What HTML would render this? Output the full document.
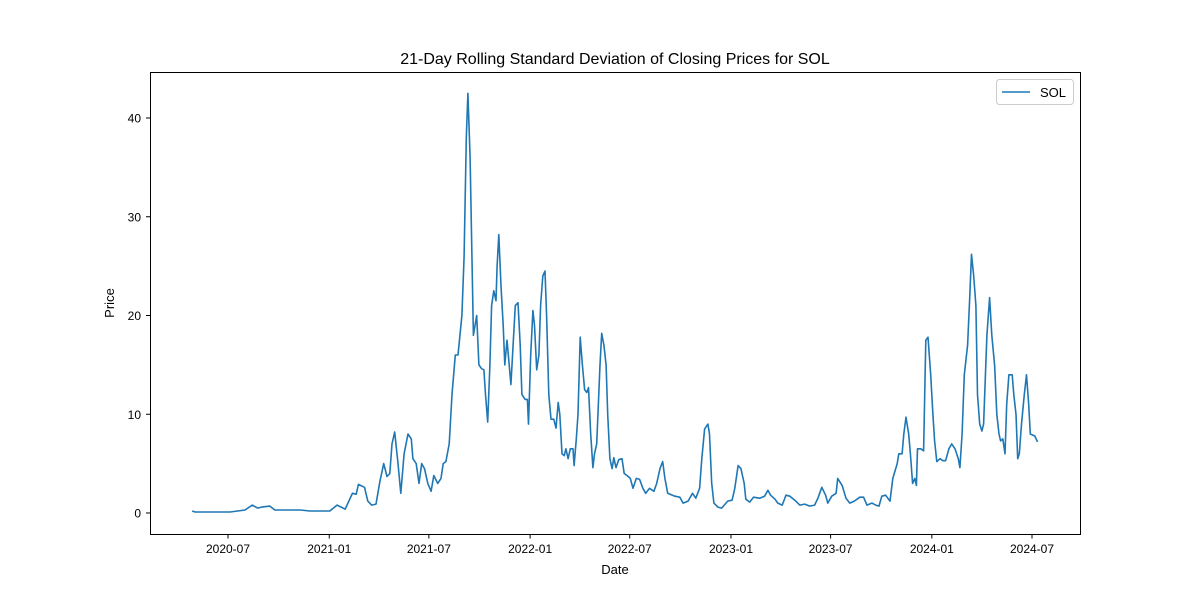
<!DOCTYPE html>
<html><head><meta charset="utf-8"><style>
body{margin:0;background:#fff;}
svg text{font-family:"Liberation Sans","DejaVu Sans",sans-serif;fill:#000;}
</style></head><body>
<svg id="chart" width="1200" height="600" xmlns="http://www.w3.org/2000/svg">
<rect width="1200" height="600" fill="#fff"/>
<text x="615" y="64" font-size="16" text-anchor="middle">21-Day Rolling Standard Deviation of Closing Prices for SOL</text>
<g id="ticks"></g>
<path id="line" fill="none" stroke="#1f77b4" stroke-width="1.6" stroke-linejoin="round"/>
<rect x="150.5" y="72.5" width="930" height="462" fill="none" stroke="#000" stroke-width="1"/>
<text x="615" y="574" font-size="13" text-anchor="middle">Date</text>
<text x="114" y="303" font-size="13" text-anchor="middle" transform="rotate(-90 114 303)">Price</text>
<g>
<rect x="996.5" y="79.5" width="77" height="25" fill="#fff" stroke="#ccc" rx="3"/>
<line x1="1002" y1="92" x2="1030" y2="92" stroke="#1f77b4" stroke-width="1.6"/>
<text x="1040" y="97" font-size="13">SOL</text>
</g>
</svg>
<script>
// days since 2020-07-01
const days=[-65,-60,4,31,44,54,61,76,85,104,131,149,167,185,198,213,226,233,237,248,254,261,269,276,283,289,294,298,303,309,314,320,327,333,336,342,347,352,357,363,369,374,381,387,391,396,402,407,413,418,425,429,433,436,440,444,446,452,456,461,465,468,472,476,479,483,487,489,492,496,500,503,507,511,514,518,522,527,531,534,540,544,546,550,554,557,561,565,568,572,576,579,583,587,592,596,600,603,607,611,614,618,622,627,629,633,636,640,644,648,652,655,659,663,666,670,676,679,683,687,690,694,698,701,705,710,716,720,725,731,736,742,748,754,759,766,774,779,785,790,794,799,812,821,827,836,844,850,857,861,866,872,875,879,883,890,897,908,916,921,927,932,938,941,948,955,966,975,981,986,994,999,1007,1014,1021,1030,1039,1048,1057,1066,1072,1079,1086,1090,1097,1105,1108,1116,1123,1130,1138,1148,1155,1161,1170,1177,1183,1188,1195,1203,1208,1216,1219,1225,1228,1232,1237,1240,1244,1248,1251,1253,1259,1264,1268,1272,1277,1281,1284,1288,1294,1299,1304,1310,1315,1321,1327,1330,1334,1338,1344,1348,1351,1355,1359,1362,1366,1370,1373,1379,1384,1388,1393,1397,1401,1404,1408,1412,1415,1419,1425,1428,1432,1435,1438,1442,1447,1451,1455,1458,1466,1471];
const values=[0.2,0.1,0.1,0.3,0.8,0.5,0.6,0.7,0.3,0.3,0.3,0.2,0.2,0.2,0.8,0.4,2.0,1.9,2.9,2.6,1.2,0.8,0.9,3.2,5.0,3.7,4.0,7.0,8.2,5.0,2.0,6.0,8.0,7.5,5.5,5.0,3.0,5.0,4.5,3.0,2.2,3.8,3.0,3.5,5.0,5.2,7.0,12,16,16,20,26,38,42.5,36,24,18,20,15,14.6,14.5,12,9.2,15,21,22.5,21.5,25,28.2,23,19,15,17.5,15,13,17,21,21.3,17,12,11.5,11.5,9,16,20.5,19,14.5,16,21,24,24.5,20,12,9.5,9.5,8.6,11.2,10,6,5.8,6.5,5.5,6.5,6.5,4.8,7.5,10,17.8,15,12.5,12.2,12.7,8,4.6,6,7,15,18.2,17,15,10,5.5,4.5,5.6,4.6,5.4,5.5,4,3.8,3.5,2.5,3.5,3.4,2.5,2.0,2.5,2.2,3.0,4.5,5.2,3.5,2.0,1.7,1.6,1.0,1.2,2.0,1.5,2.5,5.5,8.5,9.0,8.0,3,1,0.6,0.5,1.2,1.3,2.5,4.8,4.5,3.0,1.4,1.1,1.6,1.5,1.7,2.3,1.8,1.4,1.0,0.8,1.8,1.7,1.3,0.8,0.9,0.7,0.8,1.5,2.6,1.8,1.0,1.7,2.0,3.5,2.8,1.5,1.0,1.2,1.6,1.6,0.8,1.0,0.8,0.7,1.7,1.8,1.2,3.5,5,6,6,8,9.7,8,6,3,3.5,2.8,6.5,6.5,6.3,17.5,17.8,14,10,7.3,5.2,5.5,5.3,5.3,6.5,7,6.5,5.5,4.6,8,14,17,22,26.2,24,21,12,9,8.3,9,18,21.8,18,15,10,8,7.3,7.5,6,11,14,14,12,10,5.5,6,9,12,14,11,8,7.8,7.2];
const xTickDays=[0,184,365,549,730,914,1095,1279,1461];
const xTickLabels=["2020-07","2021-01","2021-07","2022-01","2022-07","2023-01","2023-07","2024-01","2024-07"];
const yTicks=[0,10,20,30,40];

const X=d=>228+d*(1032-228)/1461;
const Y=v=>513-v*9.875;
const NS="http://www.w3.org/2000/svg";
const g=document.getElementById('ticks');
function mk(tag,attrs){const e=document.createElementNS(NS,tag);for(const k in attrs)e.setAttribute(k,attrs[k]);g.appendChild(e);return e;}
xTickDays.forEach((d,i)=>{
  const x=X(d);
  const t=mk('line',{x1:x,x2:x,y1:534,y2:538.5,stroke:'#000'});
  
  
  const l=mk('text',{x:x,y:553,'font-size':12,'text-anchor':'middle'});
  l.textContent=xTickLabels[i];
  
  
});
yTicks.forEach(v=>{
  const y=Y(v);
  const t=mk('line',{x1:146,x2:150,y1:y,y2:y,stroke:'#000'});
  
  
  const l=mk('text',{x:141,y:y+4.5,'font-size':12,'text-anchor':'end'});
  l.textContent=v;
  
  
});
document.getElementById('line').setAttribute('d',days.map((d,i)=>(i?'L':'M')+X(d).toFixed(1)+','+Y(values[i]).toFixed(1)).join(''));
</script>
</body></html>
